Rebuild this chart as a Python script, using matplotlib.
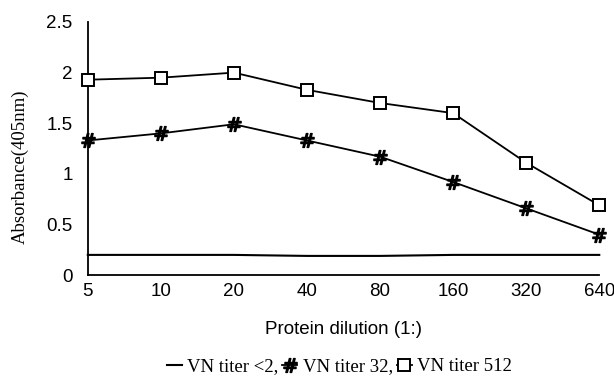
import numpy as np
import matplotlib
matplotlib.use("Agg")
import matplotlib.pyplot as plt

dilutions = ["5", "10", "20", "40", "80", "160", "320", "640"]
titer_lt2 = [0.20, 0.20, 0.20, 0.19, 0.19, 0.20, 0.20, 0.20]
titer_32 = [1.33, 1.40, 1.49, 1.33, 1.17, 0.92, 0.66, 0.40]
titer_512 = [1.93, 1.95, 2.00, 1.83, 1.70, 1.60, 1.11, 0.69]

sans = ["Liberation Sans", "DejaVu Sans"]
serif = ["Liberation Serif", "DejaVu Serif"]

fig = plt.figure(figsize=(6.14, 3.79), dpi=100)
ax = fig.add_axes([0.143, 0.274, 0.833, 0.668])
x = np.arange(len(dilutions))

ax.plot(x, titer_lt2, "-", color="black", lw=1.5, label="VN titer <2,",
        clip_on=False)
ax.plot(x, titer_32, "-", color="black", lw=1.3, marker=r"$\#$", ms=10,
        label="VN titer 32,", clip_on=False, zorder=3)
ax.plot(x, titer_512, "-", color="black", lw=1.3, marker="s", ms=9,
        mfc="white", mec="black", mew=1.4, label="VN titer 512", clip_on=False,
        zorder=3)

ax.set_xlim(0, len(dilutions) - 1)
ax.set_ylim(0, 2.5)
ax.set_xticks(x)
ax.set_xticklabels(dilutions, fontfamily=sans, fontsize=13.5)
ax.set_yticks([0, 0.5, 1, 1.5, 2, 2.5])
ax.set_yticklabels(["0", "0.5", "1", "1.5", "2", "2.5"], fontfamily=sans,
                   fontsize=13.5)
ax.tick_params(axis="y", length=0, pad=11)
ax.tick_params(axis="x", length=0, pad=6)
for s in ("top", "right"):
    ax.spines[s].set_visible(False)
ax.spines["left"].set_linewidth(1.3)
ax.spines["bottom"].set_linewidth(1.3)
ax.set_xlabel("Protein dilution (1:)", fontfamily=sans, fontsize=13.5, labelpad=15)
ax.set_ylabel("Absorbance(405nm)", fontfamily=serif, fontsize=13.5)
ax.yaxis.set_label_coords(-0.115, 0.43)

fig.legend(loc="lower center", bbox_to_anchor=(0.553, -0.035), ncol=3, frameon=False,
           prop={"family": serif, "size": 13.5}, handlelength=0.8, handletextpad=0.3,
           columnspacing=0.2)

fig.savefig("out.png", dpi=100)
